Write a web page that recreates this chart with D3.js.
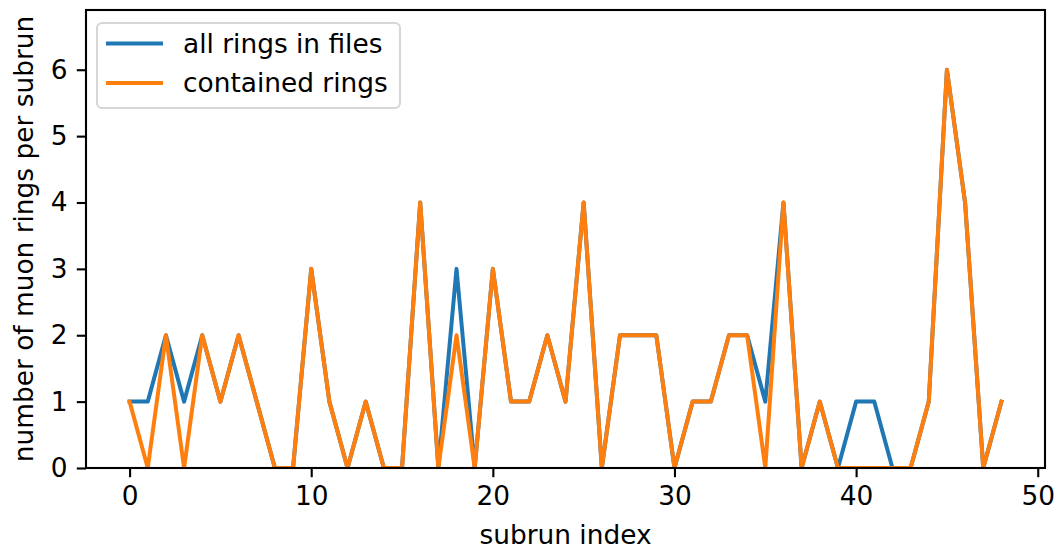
<!DOCTYPE html>
<html><head><meta charset="utf-8">
<script src="https://cdn.jsdelivr.net/npm/d3@7/dist/d3.min.js"></script>
<style>body{margin:0;background:#fff}svg{display:block}text{font-family:"DejaVu Sans",sans-serif}</style>
</head><body>
<script>
const subrun = d3.range(0, 49);
const allRings = [1,1,2,1,2,1,2,1,0,0,3,1,0,1,0,0,4,0,3,0,3,1,1,2,1,4,0,2,2,2,0,1,1,2,2,1,4,0,1,0,1,1,0,0,1,6,4,0,1];
const containedRings = [1,0,2,0,2,1,2,1,0,0,3,1,0,1,0,0,4,0,2,0,3,1,1,2,1,4,0,2,2,2,0,1,1,2,2,0,4,0,1,0,0,0,0,0,1,6,4,0,1];
const seriesNames = ["all rings in files", "contained rings"];
const seriesColors = ["#1f77b4", "#ff7f0e"];
const xTicks = [0,10,20,30,40,50];
const yTicks = [0,1,2,3,4,5,6];

const W = 1055, H = 549;
const m = {left: 86, right: 1045, top: 10, bottom: 468};
const svg = d3.select("body").append("svg").attr("width", W).attr("height", H);
const x = d3.scaleLinear().domain([-2.4, 50.4]).range([m.left, m.right]);
const y = d3.scaleLinear().domain([0, 6.9]).range([m.bottom, m.top]);

svg.append("clipPath").attr("id", "clip").append("rect")
  .attr("x", m.left).attr("y", m.top).attr("width", m.right - m.left).attr("height", m.bottom - m.top);

const line = d3.line().x((d, i) => x(subrun[i])).y(d => y(d));
[allRings, containedRings].forEach((s, k) => {
  svg.append("path").datum(s).attr("d", line).attr("fill", "none")
    .attr("stroke", seriesColors[k]).attr("stroke-width", 4)
    .attr("stroke-linejoin", "round").attr("stroke-linecap", "square")
    .attr("clip-path", "url(#clip)");
});

const fs = 26.4;
const xAxis = svg.append("g").attr("transform", `translate(0,${m.bottom})`)
  .call(d3.axisBottom(x).tickValues(xTicks).tickSize(9.2).tickPadding(9.2).tickFormat(d3.format("d")));
const yAxis = svg.append("g").attr("transform", `translate(${m.left},0)`)
  .call(d3.axisLeft(y).tickValues(yTicks).tickSize(9.2).tickPadding(9.2).tickFormat(d3.format("d")));
[xAxis, yAxis].forEach(a => {
  a.select(".domain").remove();
  a.selectAll(".tick line").attr("stroke", "#000").attr("stroke-width", 2.1);
  a.selectAll(".tick text").attr("font-size", fs).attr("fill", "#000").attr("font-family", "DejaVu Sans");
});

svg.append("rect").attr("x", m.left).attr("y", m.top).attr("width", m.right - m.left).attr("height", m.bottom - m.top)
  .attr("fill", "none").attr("stroke", "#000").attr("stroke-width", 2.1);

svg.append("text").attr("x", (m.left + m.right) / 2).attr("y", 544).attr("text-anchor", "middle")
  .attr("font-size", fs).text("subrun index");
svg.append("text").attr("transform", `translate(33,${(m.top + m.bottom) / 2}) rotate(-90)`)
  .attr("text-anchor", "middle").attr("font-size", fs).text("number of muon rings per subrun");

// legend
const lg = svg.append("g");
lg.append("rect").attr("x", 97).attr("y", 23).attr("width", 303).attr("height", 85).attr("rx", 5)
  .attr("fill", "#fff").attr("fill-opacity", 0.8).attr("stroke", "#d6d6d6").attr("stroke-width", 2.1);
seriesNames.forEach((n, k) => {
  const yy = 43.5 + k * 39.5;
  lg.append("line").attr("x1", 106).attr("x2", 163).attr("y1", yy).attr("y2", yy)
    .attr("stroke", seriesColors[k]).attr("stroke-width", 4);
  lg.append("text").attr("x", 183).attr("y", yy + 9.3).attr("font-size", fs).text(n);
});
</script>
</body></html>
